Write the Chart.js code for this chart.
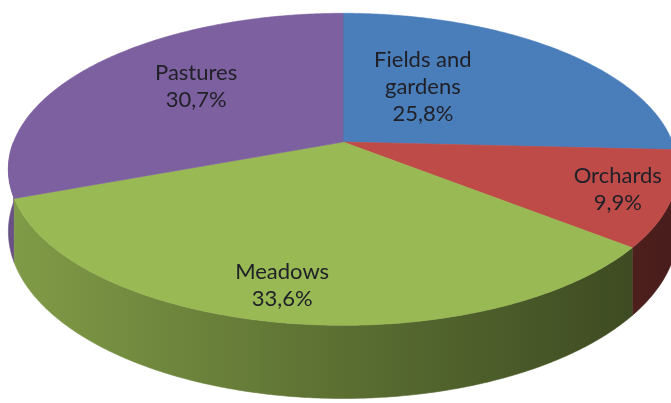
<!DOCTYPE html>
<html>
<head>
<meta charset="utf-8">
<script src="https://cdn.jsdelivr.net/npm/chart.js@4.4.0/dist/chart.umd.min.js"></script>
<style>
  html, body { margin: 0; padding: 0; background: #fff; }
</style>
</head>
<body>
<canvas id="myChart" width="671" height="403"></canvas>
<script>
// data, clockwise from 12 o'clock
const categories = ['Fields and gardens', 'Orchards', 'Meadows', 'Pastures'];
const labelLines = [['Fields and', 'gardens'], ['Orchards'], ['Meadows'], ['Pastures']];
const shares = [25.8, 9.9, 33.6, 30.7];

const colors = ['#4A7EBB', '#BE4B48', '#98B954', '#7D60A0'];

// label placement inside each slice: radius fraction and angle nudge (deg)
const labelRadius = [0.47, 0.845, 0.83, 0.62];
const labelNudge = [-13, 0, 2, 5];

// tilt / perspective of the 3d disc, relative to the pie radius
const SX = 2.32, SY = 1.065, DEPTH = 0.425, PERSP = 0.175;

function shade(hex, f) {
    const n = parseInt(hex.slice(1), 16);
    const r = Math.round(((n >> 16) & 255) * f);
    const g = Math.round(((n >> 8) & 255) * f);
    const b = Math.round((n & 255) * f);
    return 'rgb(' + r + ',' + g + ',' + b + ')';
}

function projector(el) {
    const cx = el.x, cy = el.y, R = el.outerRadius;
    const a = R * SX, b = R * SY, D = R * DEPTH;
    return function(t, r, z) {
        const u = r * Math.sin(t), v = -r * Math.cos(t);
        const w = 1 - PERSP * v;
        return [cx + a * u / w, cy + (b * v + D * z) / w];
    };
}

const pie3d = {
    id: 'pie3d',
    beforeDatasetsDraw(chart) {
        const c = chart.ctx;
        const arcs = chart.getDatasetMeta(0).data;
        const P = projector(arcs[0]);
        const cx = arcs[0].x, a = arcs[0].outerRadius * SX;
        const step = Math.PI / 360;

        // side walls (front half only), back to front
        const walls = [];
        arcs.forEach(function(el, i) {
            const s = Math.max(el.startAngle + Math.PI / 2, Math.PI / 2);
            const e = Math.min(el.endAngle + Math.PI / 2, Math.PI * 1.5);
            if (e > s) walls.push({ i: i, s: s, e: e, v: -Math.cos((s + e) / 2) });
        });
        walls.sort(function(p, q) { return p.v - q.v; });
        walls.forEach(function(wl) {
            c.beginPath();
            let p = P(wl.s, 1, 0);
            c.moveTo(p[0], p[1]);
            for (let t = wl.s; t < wl.e; t += step) { p = P(t, 1, 0); c.lineTo(p[0], p[1]); }
            p = P(wl.e, 1, 0); c.lineTo(p[0], p[1]);
            for (let t = wl.e; t > wl.s; t -= step) { p = P(t, 1, 1); c.lineTo(p[0], p[1]); }
            p = P(wl.s, 1, 1); c.lineTo(p[0], p[1]);
            c.closePath();
            const g = c.createLinearGradient(cx - a, 0, cx + a, 0);
            g.addColorStop(0, shade(colors[wl.i], 0.84));
            g.addColorStop(0.5, shade(colors[wl.i], 0.6));
            g.addColorStop(1, shade(colors[wl.i], 0.38));
            c.fillStyle = g;
            c.strokeStyle = g;
            c.lineWidth = 0.6;
            c.fill();
            c.stroke();
        });

        // top face
        arcs.forEach(function(el, i) {
            const s = el.startAngle + Math.PI / 2, e = el.endAngle + Math.PI / 2;
            c.beginPath();
            let p = P(0, 0, 0);
            c.moveTo(p[0], p[1]);
            for (let t = s; t < e; t += step) { p = P(t, 1, 0); c.lineTo(p[0], p[1]); }
            p = P(e, 1, 0); c.lineTo(p[0], p[1]);
            c.closePath();
            c.fillStyle = colors[i];
            c.strokeStyle = colors[i];
            c.lineWidth = 0.6;
            c.fill();
            c.stroke();
        });
        return false;
    },
    afterDraw(chart) {
        const c = chart.ctx;
        const arcs = chart.getDatasetMeta(0).data;
        const P = projector(arcs[0]);
        c.save();
        c.font = '22px Lato, "Open Sans", sans-serif';
        c.fillStyle = '#202028';
        c.textAlign = 'center';
        c.textBaseline = 'middle';
        const lh = 27;
        arcs.forEach(function(el, i) {
            const mid = (el.startAngle + el.endAngle) / 2 + Math.PI / 2 + labelNudge[i] * Math.PI / 180;
            const p = P(mid, labelRadius[i], 0);
            const lines = labelLines[i].concat([shares[i].toFixed(1).replace('.', ',') + '%']);
            const y0 = p[1] - (lines.length - 1) * lh / 2;
            lines.forEach(function(txt, k) { c.fillText(txt, p[0], y0 + k * lh); });
        });
        c.restore();
    }
};

document.addEventListener('DOMContentLoaded', function() {
    const ctx = document.getElementById('myChart').getContext('2d');
    new Chart(ctx, {
        type: 'pie',
        data: {
            labels: categories,
            datasets: [{
                data: shares,
                backgroundColor: colors,
                borderWidth: 0
            }]
        },
        options: {
            responsive: false,
            animation: false,
            layout: { padding: { left: 15, right: 0, top: 0, bottom: 119 } },
            plugins: {
                legend: { display: false },
                tooltip: { enabled: false }
            }
        },
        plugins: [pie3d]
    });
});
</script>
</body>
</html>
